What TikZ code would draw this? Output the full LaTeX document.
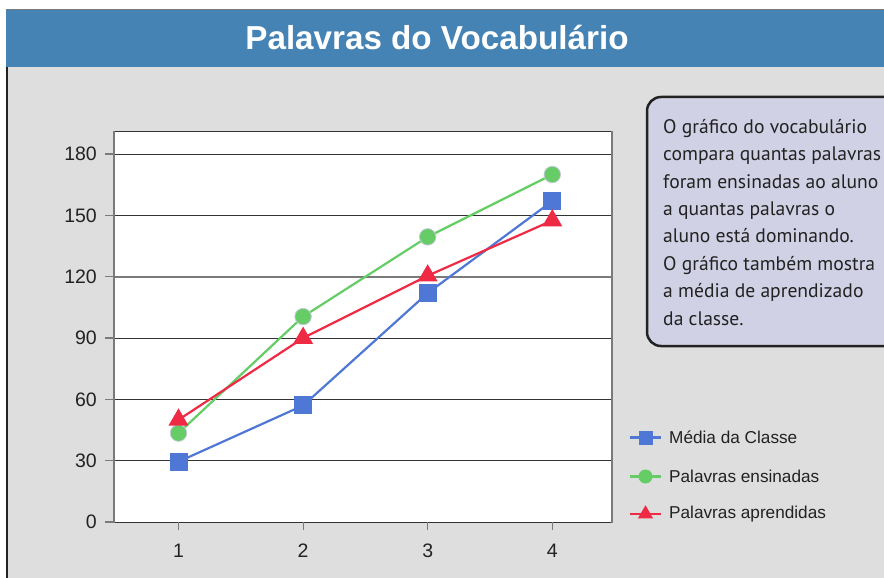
\documentclass[tikz,border=0pt]{standalone}
\usepackage{fontspec}
\setmainfont{Liberation Sans}
\newfontfamily\boxfont{PT Sans}
\usetikzlibrary{shapes.geometric}
\definecolor{bgray}{HTML}{DEDEDE}
\definecolor{titlebar}{HTML}{4583B5}
\definecolor{boxfill}{HTML}{D1D1E5}
\definecolor{boxedge}{HTML}{222222}
\definecolor{sqblue}{HTML}{4F78D6}
\definecolor{dotgreen}{HTML}{66CC66}
\definecolor{dotedge}{HTML}{C4C8D8}
\definecolor{trired}{HTML}{EE2A44}
\definecolor{gridc}{HTML}{333333}
\definecolor{axisc}{HTML}{7A7A7A}
\definecolor{labc}{HTML}{222222}
\tikzset{
  gridline/.style={draw=gridc, line width=1pt},
  tickmark/.style={draw=axisc, line width=1.2pt},
  ylab/.style={font=\fontsize{19.5}{22}\selectfont, text=labc, anchor=east, inner sep=0},
  xlab/.style={font=\fontsize{19.5}{22}\selectfont, text=labc, inner sep=0},
  legtext/.style={font=\fontsize{17.2}{20}\selectfont, text=labc, anchor=west, inner sep=0},
  blueline/.style={draw=sqblue, line width=2.2pt},
  greenline/.style={draw=dotgreen, line width=2.2pt},
  redline/.style={draw=trired, line width=2.2pt},
  bsq/.style={rectangle, fill=sqblue, minimum size=18pt, inner sep=0pt, outer sep=0pt},
  gdot/.style={circle, fill=dotgreen, draw=dotedge, line width=0.8pt, minimum size=16.5pt, inner sep=0pt},
  rtri/.style={regular polygon, regular polygon sides=3, fill=trired, minimum size=23pt, inner sep=0pt, outer sep=0pt},
  lbsq/.style={bsq, minimum size=14pt},
  lgdot/.style={gdot, minimum size=14pt, draw=none},
  lrtri/.style={rtri, minimum size=17.5pt},
}
\begin{document}
\begin{tikzpicture}[x=1pt,y=-1pt]
\useasboundingbox (0,0) rectangle (884,578);
\clip (0,0) rectangle (884,578);
\fill[white] (0,0) rectangle (884,578);
\fill[bgray] (6,9) rectangle (884,578);
% title bar
\fill[titlebar] (6,9) rectangle (884,67);
\draw[axisc, line width=1pt] (6,9.5) -- (884,9.5);
\draw[boxedge, line width=1.5pt] (7,67) -- (7,578);
\node[font=\fontsize{33.2}{38}\selectfont\bfseries, text=white, anchor=base, inner sep=0] (title) at (437,49.3) {Palavras do Vocabulário};
% plot area
\fill[white] (114,131) rectangle (612,522);
\foreach \v in {30,60,90,150,180}{
  \pgfmathsetmacro{\yy}{522-2.044*\v}
  \draw[gridline] (114,\yy) -- (612,\yy);
}
\pgfmathsetmacro{\yy}{522-2.044*120}
\draw[draw=axisc, line width=2pt] (114,\yy) -- (612,\yy);
\foreach \v in {0,30,60,90,120,150,180}{
  \pgfmathsetmacro{\yy}{522-2.044*\v}
  \draw[tickmark] (105,\yy) -- (114,\yy);
  \node[ylab] (yl\v) at (97,\yy) {\v};
}
\draw[gridc, line width=1pt] (114,131.5) -- (612,131.5);
\draw[gridc, line width=1pt] (114,522) -- (612,522);
\draw[axisc, line width=2pt] (114,131) -- (114,523);
\draw[axisc, line width=2pt] (612,131) -- (612,523);
\foreach \i in {1,2,3,4}{
  \pgfmathsetmacro{\xx}{178.5+124.6*(\i-1)}
  \draw[tickmark] (\xx,522) -- (\xx,530);
  \node[xlab] (xl\i) at (\xx,551) {\i};
}
% data points
\coordinate (b1) at (178.5,{522-2.044*29.5});
\coordinate (b2) at (303.1,{522-2.044*57});
\coordinate (b3) at (427.7,{522-2.044*112});
\coordinate (b4) at (552.3,{522-2.044*157});
\coordinate (g1) at (178.5,{522-2.044*43.5});
\coordinate (g2) at (303.1,{522-2.044*100.5});
\coordinate (g3) at (427.7,{522-2.044*139.5});
\coordinate (g4) at (552.3,{522-2.044*170});
\coordinate (r1) at (178.5,{522-2.044*50});
\coordinate (r2) at (303.1,{522-2.044*90});
\coordinate (r3) at (427.7,{522-2.044*120.5});
\coordinate (r4) at (552.3,{522-2.044*147.5});
\draw[blueline] (b1) -- (b2) -- (b3) -- (b4);
\foreach \p in {b1,b2,b3,b4}{\node[bsq] at (\p) {};}
\draw[greenline] (g1) -- (g2) -- (g3) -- (g4);
\foreach \p in {g1,g2,g3,g4}{\node[gdot] at (\p) {};}
\draw[redline] (r1) -- (r2) -- (r3) -- (r4);
\foreach \p in {r1,r2,r3,r4}{\node[rtri] at (\p) {};}
% legend
\coordinate (la1) at (630,437.5); \coordinate (lb1) at (661,437.5);
\coordinate (la2) at (630,476.5); \coordinate (lb2) at (661,476.5);
\coordinate (la3) at (630,514); \coordinate (lb3) at (661,514);
\draw[blueline] (la1) -- (lb1);
\node[lbsq] (lm1) at (645.5,437.5) {};
\node[legtext] (lt1) at (669,437.5) {Média da Classe};
\draw[greenline] (la2) -- (lb2);
\node[lgdot] (lm2) at (645.5,476.5) {};
\node[legtext] (lt2) at (669,476.5) {Palavras ensinadas};
\draw[redline] (la3) -- (lb3);
\node[lrtri] (lm3) at (645.5,514) {};
\node[legtext] (lt3) at (669,514) {Palavras aprendidas};
% info box
\draw[boxedge, fill=boxfill, line width=2.5pt, rounded corners=14pt] (647,97) rectangle (910,346);
\node[anchor=north west, inner sep=0, align=left, text=labc,
      font=\boxfont\fontsize{19.6}{27.4}\selectfont] (info) at (663,119)
{O gráfico do vocabulário\\compara quantas palavras\\foram ensinadas ao aluno\\a quantas palavras o\\aluno está dominando.\\O gráfico também mostra\\a média de aprendizado\\da classe.};
\end{tikzpicture}
\end{document}
